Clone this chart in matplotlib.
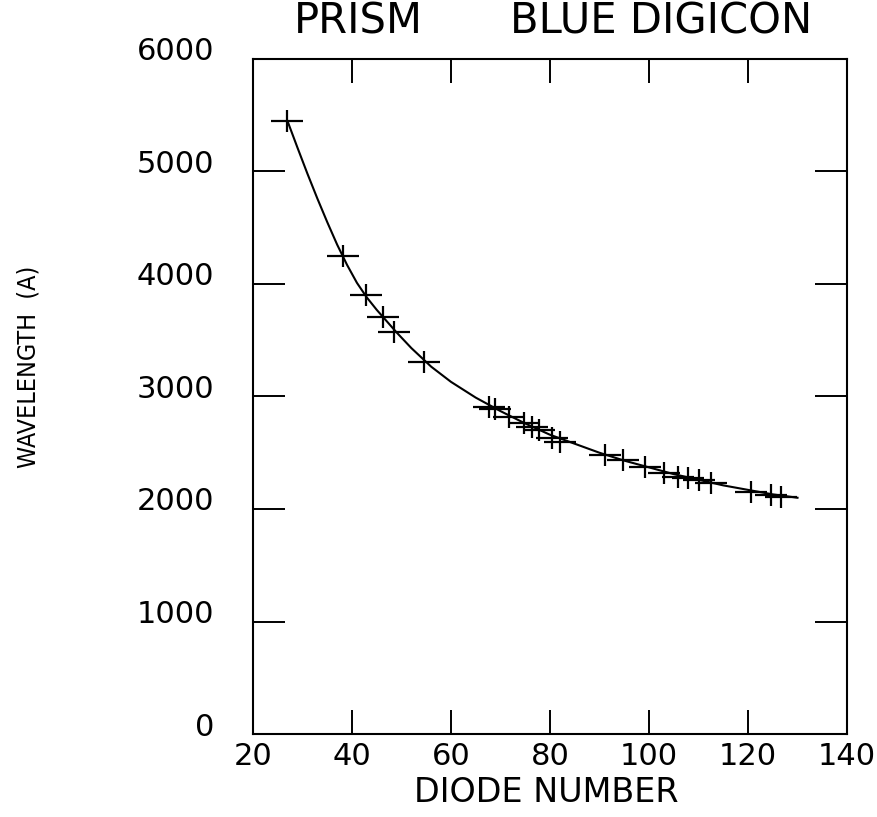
"""
Prism blue digicon dispersion curve: wavelength vs diode number.
"""
import matplotlib
matplotlib.use("Agg")
import matplotlib.pyplot as plt
from matplotlib.transforms import ScaledTranslation

# measured calibration lines (diode number, wavelength in A)
diode = [26.8, 38.1, 42.8, 46.2, 48.5, 54.5, 67.7, 68.9, 71.8, 74.8, 76.3,
         77.8, 80.5, 82.0, 91.1, 94.8, 99.2, 103.1, 105.9, 107.9, 110.0,
         112.6, 120.7, 124.6, 126.6]
wavelength = [5450, 4245, 3902, 3704, 3576, 3309, 2909, 2893, 2820, 2761, 2731,
              2702, 2627, 2598, 2480, 2436, 2376, 2317, 2287, 2273, 2258,
              2228, 2154, 2124, 2109]

# fitted dispersion curve
fit_diode = [27, 29, 31, 33, 35, 37, 39, 41, 43, 45, 47, 49, 52, 56, 60, 65,
             70, 75, 80, 85, 90, 95, 100, 105, 110, 115, 120, 125, 130]
fit_wave = [5445, 5210, 4980, 4760, 4550, 4350, 4170, 4010, 3880, 3770, 3670,
            3570, 3430, 3265, 3130, 2990, 2870, 2760, 2660, 2580, 2500, 2430,
            2370, 2310, 2260, 2210, 2170, 2130, 2100]

x_ticks = [20, 40, 60, 80, 100, 120, 140]
y_ticks = [0, 1000, 2000, 3000, 4000, 5000, 6000]

W, H, DPI = 877, 817, 100
fig = plt.figure(figsize=(W / DPI, H / DPI), dpi=DPI)
ax = fig.add_axes([253 / W, 1 - 734 / H, (847 - 253) / W, (734 - 59) / H])

ax.plot(fit_diode, fit_wave, color="black", lw=1.5)
# crosses are wider than tall in the original
ax.plot(diode, wavelength, ls="none", marker="_", ms=23, mew=1.6, color="black")
ax.plot(diode, wavelength, ls="none", marker="|", ms=16.5, mew=1.6, color="black")

ax.set_xlim(20, 140)
ax.set_ylim(0, 6000)
ax.set_xticks(x_ticks)
ax.set_yticks(y_ticks)
ax.set_xticklabels([str(v) for v in x_ticks])
ax.set_yticklabels([str(v) for v in y_ticks])

ax.tick_params(axis="x", direction="in", length=17, width=1.4, top=True,
               labelsize=22, pad=6)
ax.tick_params(axis="y", direction="in", length=23, width=1.4, right=True,
               labelsize=22, pad=28)
for sp in ax.spines.values():
    sp.set_linewidth(1.5)

# y labels sit a little above their ticks in the original
for lab in ax.get_yticklabels():
    lab.set_transform(lab.get_transform() + ScaledTranslation(0, 10 / DPI, fig.dpi_scale_trans))

fig.text(358 / W, 1 - 22 / H, "PRISM", ha="center", va="center", fontsize=30)
fig.text(661 / W, 1 - 22 / H, "BLUE DIGICON", ha="center", va="center", fontsize=30)
fig.text(546 / W, 1 - 792 / H, "DIODE NUMBER", ha="center", va="center",
         fontsize=24)
fig.text(29 / W, 1 - 367 / H, "WAVELENGTH  (A)", ha="center", va="center",
         rotation=90, fontsize=18, family="DejaVu Sans", stretch="condensed")

fig.savefig("out.png", dpi=DPI)
